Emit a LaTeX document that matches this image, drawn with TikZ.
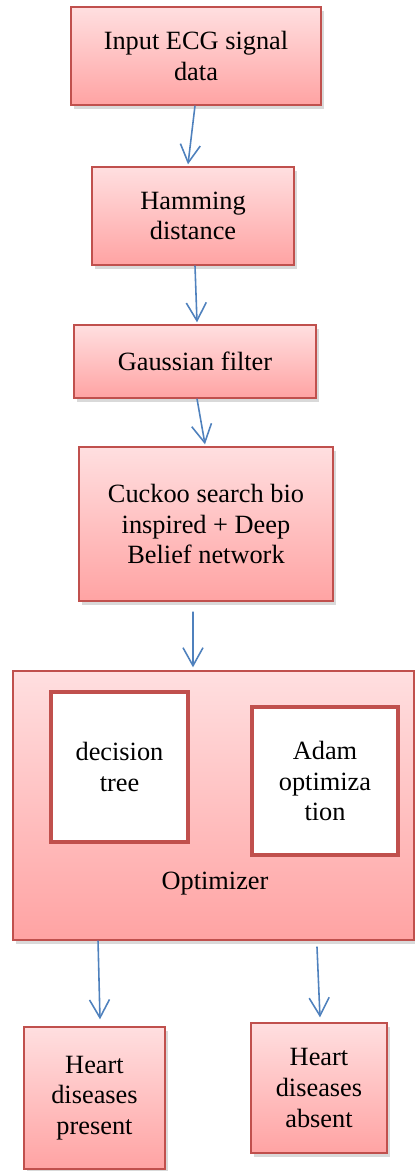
\documentclass[tikz,border=0pt]{standalone}
\usepackage{fontspec}
\setmainfont{Liberation Serif}
\usetikzlibrary{arrows.meta,shadows}
\definecolor{boxred}{RGB}{192,80,77}
\definecolor{pinktop}{RGB}{255,223,224}
\definecolor{pinkbot}{RGB}{255,163,163}
\definecolor{flowblue}{RGB}{79,129,189}

\begin{document}
\begin{tikzpicture}[x=0.02cm,y=-0.02cm,
	stage/.style={draw=boxred,line width=0.8pt,top color=pinktop,bottom color=pinkbot,align=center,inner sep=0pt,
		font=\fontsize{15}{17.5}\selectfont,drop shadow={shadow xshift=0.06cm,shadow yshift=-0.08cm,opacity=0.3}},
	part/.style={draw=boxred,line width=0.08cm,fill=white,align=center,inner sep=0pt,font=\fontsize{15}{17.5}\selectfont},
	flow/.style={flowblue,line width=0.9pt,-{Straight Barb[length=0.36cm,width=0.4cm]}}]
	\useasboundingbox (0,0) rectangle (415,1171);
	% pipeline
	\node[stage,minimum width=5cm,minimum height=1.96cm] (input) at (196,56) {Input ECG signal\\data};
	\node[stage,minimum width=4.04cm,minimum height=1.96cm] (hamming) at (193,216) {Hamming\\distance};
	\node[stage,minimum width=4.84cm,minimum height=1.46cm] (gauss) at (195,361.5) {Gaussian filter};
	\node[stage,minimum width=5.08cm,minimum height=3.08cm] (cuckoo) at (206,524) {Cuckoo search bio\\inspired + Deep\\Belief network};
	% optimizer block
	\node[stage,minimum width=8.02cm,minimum height=5.38cm] (opt) at (213.5,805.5) {};
	\node[part,minimum width=2.74cm,minimum height=3cm] (tree) at (119.5,767) {decision\\tree};
	\node[part,minimum width=2.92cm,minimum height=2.96cm] (adam) at (325,781) {Adam\\optimiza\\tion};
	\node[font=\fontsize{15}{17.5}\selectfont] (optlabel) at (215,884) {Optimizer};
	% outputs
	\node[stage,minimum width=2.82cm,minimum height=2.84cm] (present) at (94.5,1098) {Heart\\diseases\\present};
	\node[stage,minimum width=2.72cm,minimum height=2.6cm] (absent) at (319,1088) {Heart\\diseases\\absent};
	% arrows
	\draw[flow] ([xshift=-0.02cm]input.south) -- ([xshift=-0.1cm,yshift=0.04cm]hamming.north);
	\draw[flow] ([xshift=0.04cm]hamming.south) -- ([xshift=0.04cm,yshift=0.04cm]gauss.north);
	\draw[flow] ([xshift=0.04cm]gauss.south) -- ([xshift=-0.02cm,yshift=0.04cm]cuckoo.north);
	\draw[flow] ([xshift=-0.26cm,yshift=-0.2cm]cuckoo.south) -- ([xshift=-0.41cm,yshift=0.06cm]opt.north);
	\draw[flow] ([xshift=-2.31cm]opt.south) -- ([xshift=0.11cm,yshift=0.14cm]present.north);
	\draw[flow] ([xshift=2.07cm,yshift=-0.12cm]opt.south) -- ([xshift=0.02cm,yshift=0.1cm]absent.north);
\end{tikzpicture}
\end{document}
